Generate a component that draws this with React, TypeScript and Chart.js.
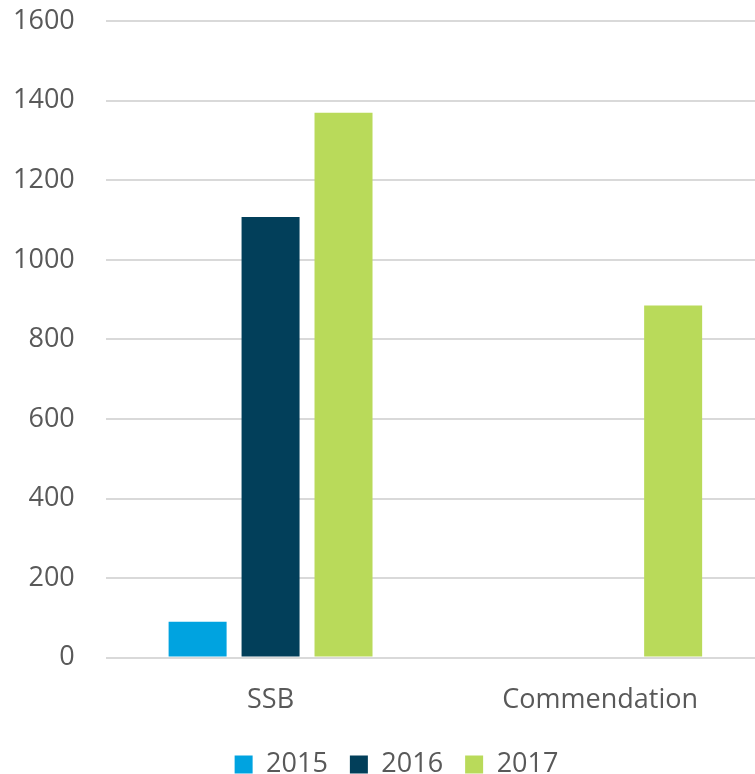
import React, { useEffect, useRef } from "react";
import { Chart, registerables } from "chart.js";

Chart.register(...registerables);

const categories = ["SSB", "Commendation"];
const seriesLabels = ["2015", "2016", "2017"];
const values2015 = [90, 0];
const values2016 = [1108, 0];
const values2017 = [1370, 885];
const yTicks = [0, 200, 400, 600, 800, 1000, 1200, 1400, 1600];

const colors = ["#00A3E0", "#023F5A", "#B9DA5A"];
const FONT = "'Open Sans', sans-serif";

const legendLift = {
  id: "legendLift",
  afterLayout(chart: any) {
    const lg = chart.legend;
    if (lg) {
      lg.top -= 15;
      lg.bottom -= 15;
      lg.left += 23;
      lg.right += 23;
    }
  },
};

export default function App() {
  const ref = useRef<HTMLCanvasElement | null>(null);
  useEffect(() => {
    if (!ref.current) return;
    const chart = new Chart(ref.current, {
      type: "bar",
      data: {
        labels: categories,
        datasets: [values2015, values2016, values2017].map((d, i) => ({
          label: seriesLabels[i],
          data: d,
          backgroundColor: colors[i],
          borderWidth: 0,
          categoryPercentage: 0.664,
          barPercentage: 0.795,
        })),
      },
      plugins: [legendLift],
      options: {
        animation: false,
        responsive: false,
        maintainAspectRatio: false,
        layout: { padding: { left: 12, right: 5, top: 0, bottom: 0 } },
        plugins: {
          tooltip: { enabled: false },
          legend: {
            position: "bottom",
            labels: {
              boxWidth: 18,
              boxHeight: 18,
              padding: 22,
              color: "#595959",
              font: { family: FONT, size: 27 },
            },
          },
        },
        scales: {
          x: {
            grid: { display: false, drawTicks: false },
            border: { display: false },
            ticks: {
              color: "#595959",
              font: { family: FONT, size: 27 },
              padding: 27,
            },
          },
          y: {
            min: 0,
            max: 1600,
            afterBuildTicks: (s: any) => {
              s.ticks = yTicks.map((v) => ({ value: v }));
            },
            grid: { color: "#D9D9D9", lineWidth: 2, drawTicks: false },
            border: { display: false },
            ticks: {
              color: "#595959",
              font: { family: FONT, size: 27 },
              padding: 31,
              callback: (v: any) => String(v),
            },
          },
        },
      },
    });
    return () => chart.destroy();
  }, []);
  return (
    <div
      style={{
        position: "fixed",
        left: 0,
        top: 0,
        width: 755,
        height: 774,
        overflow: "hidden",
        background: "#fff",
      }}
    >
      <canvas
        ref={ref}
        width={800}
        height={829}
        style={{ display: "block", position: "absolute", left: -30, top: -26 }}
      />
    </div>
  );
}
